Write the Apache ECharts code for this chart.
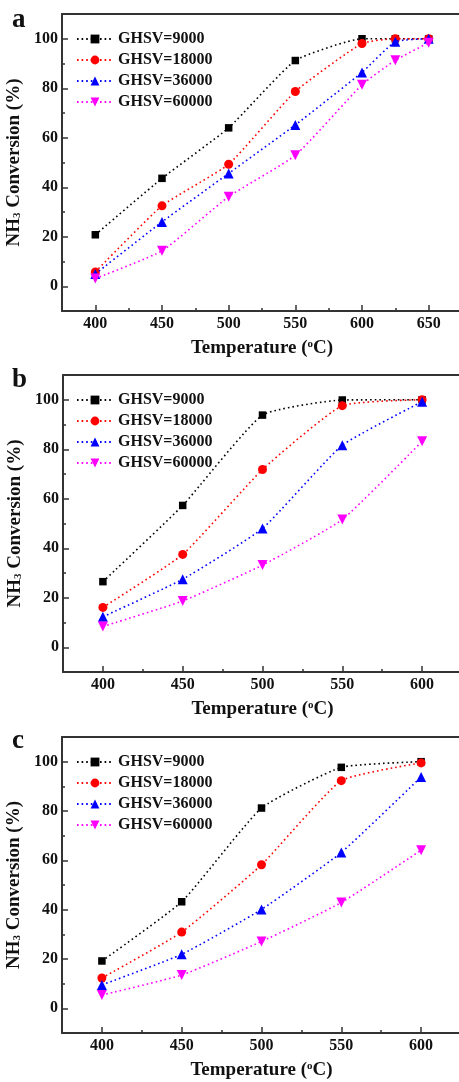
<!DOCTYPE html>
<html>
<head>
<meta charset="utf-8">
<title>NH3 conversion vs temperature</title>
<script src="https://cdn.jsdelivr.net/npm/echarts@6/dist/echarts.min.js"></script>
<style>
  html, body { margin: 0; padding: 0; background: #fff; overflow: hidden; }
  #chart { width: 459px; height: 1082px; }
</style>
</head>
<body>
<div id="chart"></div>
<script>
// Temperatures (°C)
const tempsA = [400, 450, 500, 550, 600, 625, 650];
const tempsBC = [400, 450, 500, 550, 600];

// Series names
const seriesNames = ['GHSV=9000', 'GHSV=18000', 'GHSV=36000', 'GHSV=60000'];

// Panel a: NH3 conversion (%)
const a9000  = [20.8, 43.6, 64.0, 91.2, 100, 100, 100];
const a18000 = [5.8, 32.5, 49.3, 78.7, 98.1, 100, 100];
const a36000 = [5.0, 26.0, 45.6, 65.2, 86.4, 98.8, 100];
const a60000 = [3.1, 14.3, 36.2, 52.9, 81.4, 91.3, 98.4];

// Panel b
const b9000  = [26.5, 57.3, 93.8, 99.9, 100];
const b18000 = [16.1, 37.5, 71.8, 97.6, 100];
const b36000 = [12.3, 27.5, 48.0, 81.6, 99.2];
const b60000 = [8.4, 18.7, 33.2, 51.6, 83.2];

// Panel c
const c9000  = [19.2, 43.2, 81.2, 97.7, 100];
const c18000 = [12.3, 30.9, 58.2, 92.3, 99.5];
const c36000 = [9.5, 21.9, 40.1, 63.2, 93.8];
const c60000 = [5.4, 13.5, 27.1, 42.9, 64.1];

// Tick labels
const yMajorTicks = [0, 20, 40, 60, 80, 100];
const yMinorTicks = [10, 30, 50, 70, 90];
const xMajorTicksA = [400, 450, 500, 550, 600, 650];
const xMinorTicksA = [425, 475, 525, 575, 625];
const xMajorTicksBC = [400, 450, 500, 550, 600];
const xMinorTicksBC = [425, 475, 525, 575];

const panelLetters = ['a', 'b', 'c'];

const FONT = "'Liberation Serif','Times New Roman',serif";
const AXIS_COLOR = '#333';
const axisLineStyle = { color: AXIS_COLOR, width: 2 };

const styles = [
  { color: '#000000', symbol: 'rect', size: 7.5, rotate: 0 },
  { color: '#ff0000', symbol: 'circle', size: 9, rotate: 0 },
  { color: '#0000ff', symbol: 'triangle', size: 10, rotate: 0 },
  { color: '#ff00ff', symbol: 'triangle', size: 10, rotate: 180 }
];

const panels = [
  { temps: tempsA, data: [a9000, a18000, a36000, a60000], xMin: 375, xMax: 675,
    xMajor: xMajorTicksA, xMinor: xMinorTicksA,
    grid: { left: 62, top: 14, width: 400, height: 297 }, letterY: 21 },
  { temps: tempsBC, data: [b9000, b18000, b36000, b60000], xMin: 375, xMax: 625,
    xMajor: xMajorTicksBC, xMinor: xMinorTicksBC,
    grid: { left: 63, top: 375, width: 399, height: 297 }, letterY: 381 },
  { temps: tempsBC, data: [c9000, c18000, c36000, c60000], xMin: 375, xMax: 625,
    xMajor: xMajorTicksBC, xMinor: xMinorTicksBC,
    grid: { left: 62, top: 737, width: 399, height: 296 }, letterY: 742 }
];

const grids = [], xAxes = [], yAxes = [], series = [], legends = [], graphics = [];

panels.forEach((p, i) => {
  grids.push(Object.assign({ show: false, outerBoundsMode: 'none' }, p.grid));

  // bottom x axis: line, labels and major ticks
  xAxes.push({
    type: 'value', gridIndex: i, position: 'bottom', min: p.xMin, max: p.xMax,
    axisLine: { show: true, onZero: false, lineStyle: axisLineStyle }, splitLine: { show: false },
    axisTick: { inside: true, length: 6, customValues: p.xMajor, lineStyle: { color: AXIS_COLOR, width: 1.5 } },
    axisLabel: { customValues: p.xMajor, margin: 5, color: '#111', fontFamily: FONT, fontWeight: 'bold', fontSize: 16 },
    name: 'Temperature ({sup|o}C)', nameLocation: 'middle', nameGap: 28,
    nameTextStyle: {
      fontFamily: FONT, fontWeight: 'bold', fontSize: 19, color: '#111', lineHeight: 19,
      rich: { sup: { fontFamily: FONT, fontWeight: 'bold', fontSize: 11, verticalAlign: 'top', lineHeight: 7, color: '#111' } }
    }
  });
  // bottom x axis: minor ticks
  xAxes.push({
    type: 'value', gridIndex: i, position: 'bottom', offset: 0, min: p.xMin, max: p.xMax,
    axisLine: { show: false, onZero: false }, splitLine: { show: false }, axisLabel: { show: false },
    axisTick: { inside: true, length: 3, customValues: p.xMinor, lineStyle: { color: AXIS_COLOR, width: 1.5 } }
  });
  // top frame line
  xAxes.push({
    type: 'value', gridIndex: i, position: 'top', offset: 0, min: p.xMin, max: p.xMax,
    axisLine: { show: true, onZero: false, lineStyle: axisLineStyle }, splitLine: { show: false },
    axisLabel: { show: false }, axisTick: { show: false }
  });

  // left y axis: line, labels and major ticks
  yAxes.push({
    type: 'value', gridIndex: i, position: 'left', min: -10, max: 110,
    axisLine: { show: true, onZero: false, lineStyle: axisLineStyle }, splitLine: { show: false },
    axisTick: { inside: true, length: 6, customValues: yMajorTicks, lineStyle: { color: AXIS_COLOR, width: 1.5 } },
    axisLabel: { customValues: yMajorTicks, margin: 4, color: '#111', fontFamily: FONT, fontWeight: 'bold', fontSize: 16 },
    name: 'NH{sub|3} Conversion (%)', nameLocation: 'middle', nameGap: 32,
    nameTextStyle: {
      fontFamily: FONT, fontWeight: 'bold', fontSize: 19, color: '#111', lineHeight: 19,
      rich: { sub: { fontFamily: FONT, fontWeight: 'bold', fontSize: 11, verticalAlign: 'bottom', lineHeight: 5, color: '#111' } }
    }
  });
  // left y axis: minor ticks
  yAxes.push({
    type: 'value', gridIndex: i, position: 'left', offset: 0, min: -10, max: 110,
    axisLine: { show: false, onZero: false }, splitLine: { show: false }, axisLabel: { show: false },
    axisTick: { inside: true, length: 3, customValues: yMinorTicks, lineStyle: { color: AXIS_COLOR, width: 1.5 } }
  });

  p.data.forEach((vals, k) => {
    const s = styles[k];
    series.push({
      name: seriesNames[k], type: 'line',
      xAxisIndex: i * 3, yAxisIndex: i * 2,
      data: p.temps.map((t, j) => [t, vals[j]]),
      smooth: 0.15,
      symbol: s.symbol, symbolSize: s.size, symbolRotate: s.rotate,
      itemStyle: { color: s.color },
      lineStyle: { color: s.color, width: 1.6, type: [1.6, 3] },
      animation: false, z: 2 + k
    });
  });

  legends.push({
    data: seriesNames, orient: 'vertical', left: 76, top: p.grid.top + 17,
    itemWidth: 36, itemHeight: 11, itemGap: 5, padding: 0,
    selectedMode: false,
    textStyle: { fontFamily: FONT, fontWeight: 'bold', fontSize: 16, color: '#111' }
  });

  graphics.push({
    type: 'text', left: 12, top: p.letterY - 14,
    style: { text: panelLetters[i], font: 'bold 27px ' + FONT, fill: '#111' }
  });

  // the plot frame is open on the right at the page edge: keep that strip clear
  graphics.push({
    type: 'rect', z: 100, silent: true,
    shape: { x: 455, y: p.grid.top + 2, width: 6, height: p.grid.height - 4 },
    style: { fill: '#fff' }
  });
});

const chart = echarts.init(document.getElementById('chart'), null, { renderer: 'canvas', width: 459, height: 1082 });
chart.setOption({
  backgroundColor: '#fff',
  animation: false,
  grid: grids, xAxis: xAxes, yAxis: yAxes, series: series, legend: legends,
  graphic: graphics
});
</script>
</body>
</html>
